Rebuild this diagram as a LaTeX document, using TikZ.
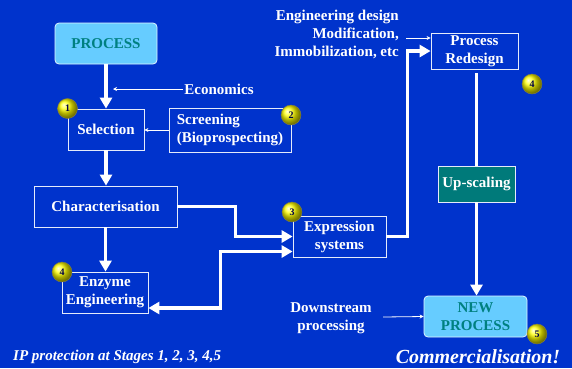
\documentclass[tikz,border=0pt]{standalone}
\usepackage{fontspec}
\setmainfont{Liberation Serif}
\usetikzlibrary{arrows.meta, positioning, shapes.geometric, calc}
\definecolor{slideblue}{RGB}{0,51,204}
\definecolor{boxcyan}{RGB}{102,204,255}
\definecolor{tealtext}{RGB}{0,128,128}
\definecolor{tealfill}{RGB}{0,122,122}
\definecolor{badgenum}{RGB}{0,0,70}

\begin{document}
\begin{tikzpicture}[x=1pt, y=-1pt, >=Stealth, font=\bfseries\fontsize{15}{18}\selectfont]
    % Background
    \fill[slideblue] (0,0) rectangle (572,368);
    \useasboundingbox (0,0) rectangle (572,368);

    % Styles
    \tikzstyle{block} = [rectangle, draw=white!90!slideblue, line width=0.8pt, text=white, text centered, align=center, minimum height=41pt, inner sep=2pt]
    \tikzstyle{goal} = [block, rounded corners=4pt, fill=boxcyan, draw=white!80!boxcyan, text=tealtext]
    \tikzstyle{badge} = [circle, draw=black!55!yellow, shading=ball, ball color=yellow, minimum size=20pt, inner sep=0pt, text=badgenum, font=\bfseries\fontsize{10}{10}\selectfont]
    \tikzstyle{note} = [text=white, align=center, inner sep=1pt]
    \tikzstyle{bigarrow} = [white, line width=3.5pt, -{Triangle[length=11pt,width=12pt]}]
    \tikzstyle{bigdouble} = [white, line width=3.5pt, {Triangle[length=11pt,width=12pt]}-{Triangle[length=11pt,width=12pt]}]
    \tikzstyle{thinarrow} = [white, line width=0.8pt, -{Stealth[length=4pt,width=4pt]}]

    % Blocks
    \node[goal, minimum width=102pt] (process) at (106,43.5) {PROCESS};
    \node[block, minimum width=76pt] (selection) at (106,129.5) {Selection};
    \node[block, minimum width=122pt, minimum height=44pt, align=left] (screening) at (230,130) {Screening\\(Bioprospecting)};
    \node[block, minimum width=143pt] (charac) at (105.5,206.5) {Characterisation};
    \node[block, minimum width=86pt] (enzyme) at (105,292.5) {Enzyme\\Engineering};
    \node[block, minimum width=93pt] (express) at (339.5,236.5) {Expression\\systems};
    \node[block, minimum width=87pt, minimum height=36pt] (redesign) at (474.5,51) {Process\\Redesign};
    \node[block, fill=tealfill, minimum width=77pt, minimum height=36pt] (upscale) at (476.5,184) {Up-scaling};
    \node[goal, minimum width=103pt] (newproc) at (475.5,316.5) {NEW\\PROCESS};

    % Side texts
    \node[note] (econ) at (219,89) {Economics};
    \coordinate (econtip) at (113,89);
    \node[note, align=right, anchor=east] (engtext) at (400,34) {Engineering design\\Modification,\\Immobilization, etc};
    \coordinate (engtip) at (406,38);
    \node[note] (downstream) at (331,318) {Downstream\\processing};
    \coordinate (downtip) at (383,317);

    % Lines
    \draw[bigarrow] (process) -- (selection);
    \draw[thinarrow] (econ.west) -- (econtip);
    \draw[thinarrow] (screening.west) -- (screening.west -| selection.east);
    \draw[bigarrow] (selection.south) -- (selection.south |- charac.north);
    \draw[bigarrow] (charac.south) -- (charac.south |- enzyme.north);
    \draw[bigarrow] (charac.east) -- ++(58,0) |- (express.west);
    \draw[bigdouble] ([yshift=-15.5pt]enzyme.east) -- ++(72,0) |- ([yshift=-15pt]express.west);
    \draw[bigarrow] (express.east) -- ++(21,0) |- (redesign.west);
    \draw[thinarrow] (engtip) -- ([yshift=13pt]redesign.west);
    \draw[white, line width=3.5pt] ([yshift=-4pt]redesign.south -| upscale) -- (upscale.north);
    \draw[bigarrow] (upscale.south) -- (upscale.south |- newproc.north);
    \draw[thinarrow] (downtip) -- (newproc.west);

    % Circles
    \node[badge] (b1) at (67.5,108.5) {1};
    \node[badge] (b2) at (291,115) {2};
    \node[badge] (b3) at (292,212) {3};
    \node[badge] (b4) at (62,272) {4};
    \node[badge] (b4r) at (532,84) {4};
    \node[badge] (b5) at (537,334) {5};

    % Annotations
    \node[note, anchor=west, font=\bfseries\itshape\fontsize{15}{18}\selectfont] (ip) at (12,357) {IP protection at Stages 1, 2, 3, 4,5};
    \node[note, font=\bfseries\itshape\fontsize{20}{24}\selectfont] (commerce) at (478,357) {Commercialisation!};
\end{tikzpicture}
\end{document}
